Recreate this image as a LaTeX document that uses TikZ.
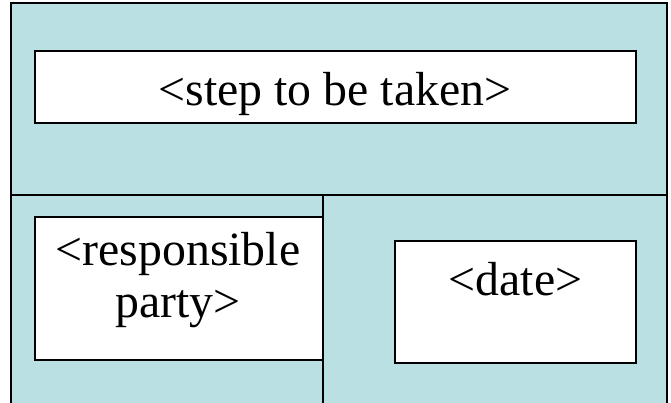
\documentclass[tikz,border=0pt]{standalone}
\usepackage{fontspec}
\setmainfont{Liberation Serif}
\definecolor{panel}{HTML}{BBE0E3}
\begin{document}
\begin{tikzpicture}[x=1pt,y=-1pt,
  whitebox/.style={draw=black,fill=white,line width=1.5pt,inner sep=0pt,rectangle},
  label/.style={font=\fontsize{47.8}{52}\selectfont,anchor=base,inner sep=0pt},
  rule/.style={draw=black,line width=1.5pt}]
\useasboundingbox (0,0) rectangle (671,402);
\begin{scope}
\clip (0,0) rectangle (671,402);
\filldraw[fill=panel,rule] (11,3) rectangle (667,420);
\end{scope}
\coordinate (hl) at (11,195);
\coordinate (hr) at (667,195);
\coordinate (vt) at (323,195);
\coordinate (vb) at (323,410);
\draw[rule] (hl) -- (hr);
\draw[rule] (vt) -- (vb);
\node[whitebox,minimum width=601,minimum height=72] (stepbox) at (335.5,87) {};
\node[whitebox,minimum width=288,minimum height=143] (respbox) at (179,288.5) {};
\node[whitebox,minimum width=241,minimum height=122] (datebox) at (515.5,302) {};
\node[label] (steptext) at (335,105) {<step to be taken>};
\node[label] (resp1) at (178,265) {<responsible};
\node[label] (resp2) at (178,317) {party>};
\node[label] (datetext) at (515.5,295) {<date>};
\end{tikzpicture}
\end{document}
